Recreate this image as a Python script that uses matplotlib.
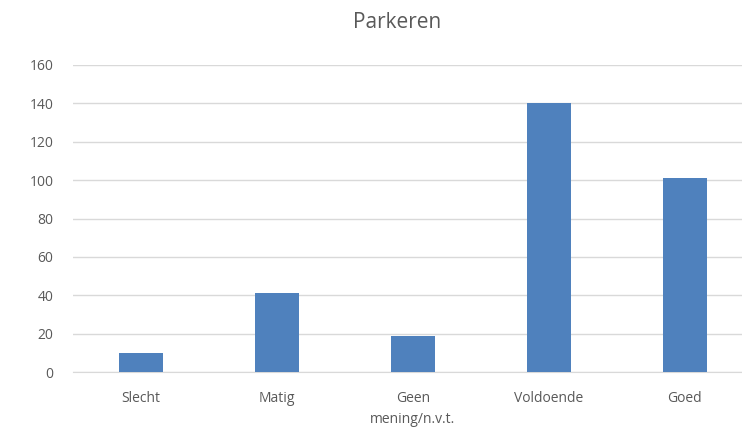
import matplotlib
matplotlib.use("Agg")
import matplotlib.pyplot as plt

plt.rcParams["font.family"] = ["Open Sans", "DejaVu Sans"]

categories = ["Slecht", "Matig", "Geen\nmening/n.v.t.", "Voldoende", "Goed"]
counts = [10, 41, 19, 140, 101]
yticks = [0, 20, 40, 60, 80, 100, 120, 140, 160]

text_color = "#595959"
bar_color = "#4F81BD"

fig = plt.figure(figsize=(7.42, 4.32), dpi=100)
ax = fig.add_axes([73 / 742, 1 - 372 / 432, 1 - 73 / 742, (372 - 65) / 432])

x = range(len(categories))
ax.bar(x, counts, width=0.32, color=bar_color, zorder=3)

ax.set_xlim(-0.5, 4.42)
ax.set_ylim(0, 160)
ax.set_yticks(yticks)
ax.set_xticks(list(x))
ax.set_xticklabels(categories, linespacing=1.5)
ax.yaxis.grid(True, color="#d9d9d9", linewidth=1, zorder=0)
for s in ["top", "right", "left"]:
    ax.spines[s].set_visible(False)
ax.spines["bottom"].set_color("#d9d9d9")
ax.tick_params(axis="both", length=0, colors=text_color, labelsize=10)
ax.tick_params(axis="y", pad=14)
ax.tick_params(axis="x", pad=14)

fig.text(0.535, 1 - 22 / 432, "Parkeren", ha="center", va="center",
         fontsize=15, color=text_color)

fig.savefig("out.png", dpi=100)
